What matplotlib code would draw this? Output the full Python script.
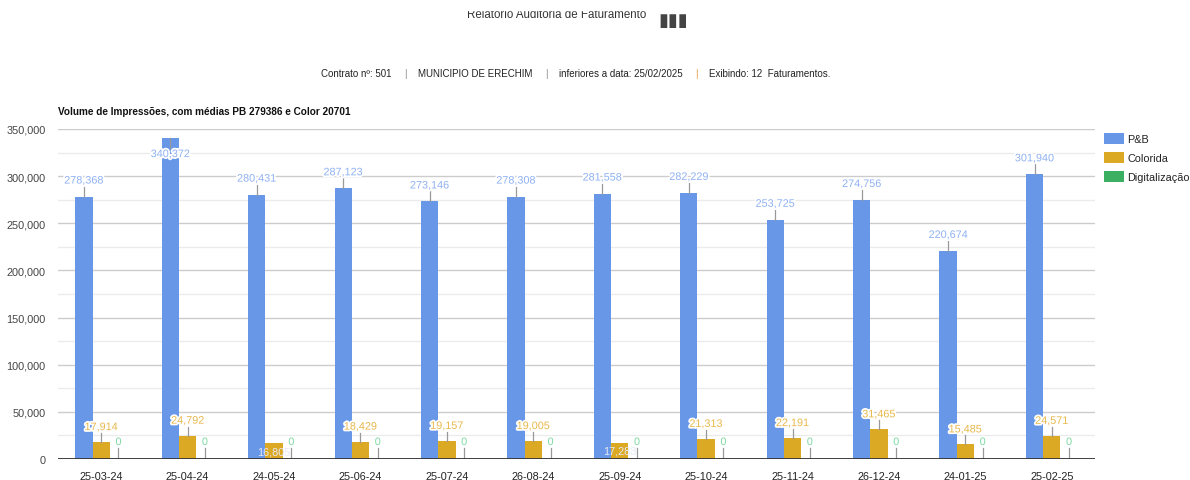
import matplotlib.pyplot as plt
import matplotlib.patheffects as pe
from matplotlib.patches import Rectangle
from matplotlib.ticker import FuncFormatter, MultipleLocator

PERIODS = ["25-03-24", "25-04-24", "24-05-24", "25-06-24", "25-07-24", "26-08-24",
           "25-09-24", "25-10-24", "25-11-24", "26-12-24", "24-01-25", "25-02-25"]
PB = [278368, 340372, 280431, 287123, 273146, 278308,
      281558, 282229, 253725, 274756, 220674, 301940]
COLORIDA = [17914, 24792, 16805, 18429, 19157, 19005,
            17283, 21313, 22191, 31465, 15485, 24571]
DIGITALIZACAO = [0, 0, 0, 0, 0, 0, 0, 0, 0, 0, 0, 0]
# labels google squeezed inside the bar
INSIDE_COLORIDA = {2, 6}

W, H = 1190, 481
ARIAL = ["Liberation Sans", "DejaVu Sans"]

BLUE = "#6897e8"
GOLD = "#dba923"
GREEN = "#3bb062"


def px(x, y):
    return x / W, 1 - y / H


fig = plt.figure(figsize=(W / 100, H / 100), dpi=100)
ax = fig.add_axes([58 / W, 1 - 460 / H, (1095 - 58) / W, (460 - 130) / H])

ymax = 350000
ax.set_xlim(-0.5, len(PERIODS) - 0.5)
ax.set_ylim(0, ymax)
bw = 0.2
xs = list(range(len(PERIODS)))
px_per_unit = (460 - 130) / ymax

bars_pb = ax.bar([x - bw for x in xs], PB, bw, color=BLUE, label="P&B", zorder=2)
bars_col = ax.bar(xs, COLORIDA, bw, color=GOLD, label="Colorida", zorder=2)
bars_dig = ax.bar([x + bw for x in xs], DIGITALIZACAO, bw, color=GREEN, label="Digitalização", zorder=2)

halo = [pe.withStroke(linewidth=2.5, foreground="white")]
LABEL_SIZE = 7.8


def label(x, value, text, color, gap_px, inside=False, clip=None):
    gap = gap_px / px_per_unit
    if inside:
        t = ax.text(x, value / 2, text, ha="center", va="center", fontsize=LABEL_SIZE,
                    color="#e6e9f5", family=ARIAL, zorder=4)
        if clip is not None:
            t.set_clip_path(clip)
        return
    if value + gap + 8 / px_per_unit > ymax:
        ax.plot([x, x], [value, value - 10 / px_per_unit], color="#999999", lw=0.9, zorder=3)
        ax.text(x, value - gap, text, ha="center", va="center", fontsize=LABEL_SIZE,
                color=color, family=ARIAL, zorder=4, path_effects=halo)
        return
    ax.plot([x, x], [value, value + (gap_px - 6) / px_per_unit], color="#999999", lw=0.9, zorder=3)
    ax.text(x, value + gap, text, ha="center", va="center", fontsize=LABEL_SIZE,
            color=color, family=ARIAL, zorder=4, path_effects=halo)


for i, x in enumerate(xs):
    label(x - bw, PB[i], f"{PB[i]:,}", "#8fb1f2", 16)
    if i in INSIDE_COLORIDA:
        clip = Rectangle((x - 1.5 * bw, 0), 2 * bw, ymax, transform=ax.transData)
        label(x, COLORIDA[i], f"{COLORIDA[i]:,}", "#e6e9f5", 0, inside=True, clip=clip)
    else:
        label(x, COLORIDA[i], f"{COLORIDA[i]:,}", "#e8b84c", 15)
    label(x + bw, DIGITALIZACAO[i], f"{DIGITALIZACAO[i]:,}", "#7fd9a3", 17)

ax.yaxis.set_major_locator(MultipleLocator(50000))
ax.yaxis.set_minor_locator(MultipleLocator(25000))
ax.yaxis.set_major_formatter(FuncFormatter(lambda v, _: f"{int(v):,}"))
ax.grid(axis="y", which="major", color="#cccccc", lw=1.0, zorder=0)
ax.grid(axis="y", which="minor", color="#ebebeb", lw=1.0, zorder=0)
ax.set_axisbelow(True)
ax.axhline(0, color="#333333", lw=1.3, zorder=3)

ax.set_xticks(xs)
ax.set_xticklabels(PERIODS, family=ARIAL, fontsize=7.8, color="#222222")
ax.tick_params(axis="x", length=0, pad=9)
ax.tick_params(axis="y", which="both", length=0, pad=9, labelsize=7.8, labelcolor="#444444")
for t in ax.get_yticklabels():
    t.set_family(ARIAL)
for s in ax.spines.values():
    s.set_visible(False)

fig.legend(handles=[bars_pb, bars_col, bars_dig], loc="upper left",
           bbox_to_anchor=px(1094, 124), frameon=False,
           handlelength=1.9, handleheight=1.2, handletextpad=0.3, labelspacing=0.72,
           prop={"family": ARIAL, "size": 7.8}, labelcolor="#222222")

# page header, cut at the top like the screenshot
fig.text(*px(557, 15), "Relatório Auditoria de Faturamento", ha="center", va="center",
         fontsize=8.3, family=ARIAL, color="#333333")
fig.text(*px(673, 21), "▮▮▮", ha="center", va="center", fontsize=13, color="#444444",
         family=["DejaVu Sans"])
fig.patches.append(Rectangle((0, 1 - 11 / H), 1, 11 / H, transform=fig.transFigure,
                             color="white", zorder=10))

pieces = [
    ("Contrato nº: 501", "#222222"),
    ("|", "#888888"),
    ("MUNICIPIO DE ERECHIM", "#222222"),
    ("|", "#888888"),
    ("inferiores a data: 25/02/2025", "#222222"),
    ("|", "#e89a3c"),
    ("Exibindo: 12  Faturamentos.", "#222222"),
]
renderer = fig.canvas.get_renderer()
sub_texts = [fig.text(0, 1 - 74 / H, text, ha="left", va="center", fontsize=7,
                      family=ARIAL, color=color) for text, color in pieces]
widths = [t.get_window_extent(renderer).width for t in sub_texts]
gap = 12
total = sum(widths) + gap * (len(widths) - 1)
x = 576 - total / 2
for t, w in zip(sub_texts, widths):
    t.set_x(x / W)
    x += w + gap

fig.text(*px(58, 112), "Volume de Impressões, com médias PB 279386 e Color 20701",
         ha="left", va="center", fontsize=7.2, fontweight="bold", family=ARIAL, color="#111111")

fig.savefig("out.png", dpi=100, facecolor="white")
